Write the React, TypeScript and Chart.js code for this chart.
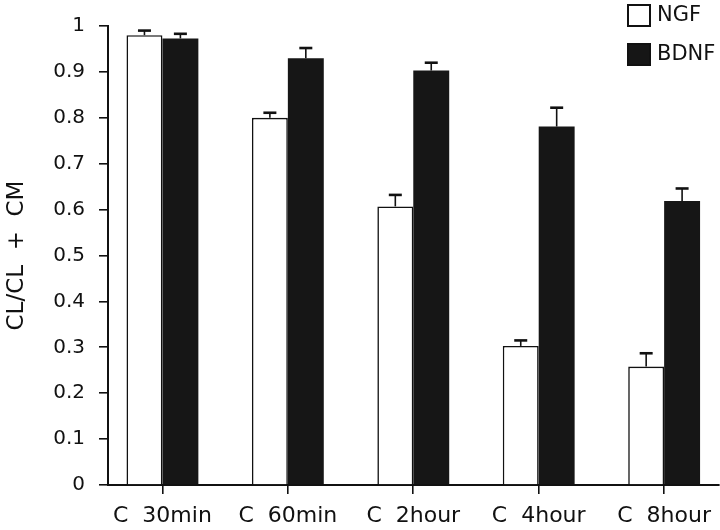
import React, { useEffect, useRef } from "react";
import { Chart, registerables } from "chart.js";

Chart.register(...registerables);

const categories = ["C  30min", "C  60min", "C  2hour", "C  4hour", "C  8hour"];
const seriesNames = ["NGF", "BDNF"];
const ngfValues = [0.98, 0.8, 0.607, 0.303, 0.258];
const ngfErrors = [0.01, 0.011, 0.025, 0.012, 0.029];
const bdnfValues = [0.973, 0.93, 0.903, 0.781, 0.619];
const bdnfErrors = [0.01, 0.022, 0.017, 0.041, 0.027];
const yTitle = "CL/CL  +  CM";

const FONT = "'DejaVu Sans', 'Liberation Sans', sans-serif";

const errorBarPlugin = {
  id: "errorBars",
  afterDatasetsDraw(chart: any) {
    const ctx = chart.ctx;
    const yScale = chart.scales.y;
    const errs = [ngfErrors, bdnfErrors];
    chart.data.datasets.forEach((ds: any, di: number) => {
      const meta = chart.getDatasetMeta(di);
      meta.data.forEach((el: any, i: number) => {
        const v = ds.data[i].y;
        const top = yScale.getPixelForValue(v + errs[di][i]);
        const x = el.x;
        ctx.save();
        ctx.strokeStyle = "#111";
        ctx.lineWidth = 1.6;
        ctx.beginPath();
        ctx.moveTo(x, el.y);
        ctx.lineTo(x, top);
        ctx.stroke();
        ctx.lineWidth = 2.6;
        ctx.beginPath();
        ctx.moveTo(x - 6.5, top);
        ctx.lineTo(x + 6.5, top);
        ctx.stroke();
        ctx.restore();
      });
    });
  },
};

const legendPlugin = {
  id: "customLegend",
  afterDraw(chart: any) {
    const ctx = chart.ctx;
    const rows = [
      { y: 5, fill: "#ffffff" },
      { y: 44, fill: "#161616" },
    ];
    ctx.save();
    chart.data.datasets.forEach((ds: any, i: number) => {
      const r = rows[i];
      ctx.fillStyle = r.fill;
      ctx.fillRect(628, r.y, 22, 21);
      ctx.strokeStyle = "#111";
      ctx.lineWidth = 2;
      ctx.strokeRect(628, r.y, 22, 21);
      ctx.fillStyle = "#111";
      ctx.font = `21px ${FONT}`;
      ctx.textBaseline = "middle";
      ctx.textAlign = "left";
      ctx.fillText(ds.label, 657, r.y + 11);
    });
    ctx.restore();
  },
};

export default function App() {
  const ref = useRef<HTMLCanvasElement | null>(null);

  useEffect(() => {
    if (!ref.current) return;
    const chart = new Chart(ref.current, {
      type: "bar",
      data: {
        datasets: [
          {
            label: seriesNames[0],
            data: ngfValues.map((v, i) => ({ x: i, y: v })),
            backgroundColor: "#ffffff",
            borderColor: "#111",
            borderWidth: { top: 1.6, left: 1.6, right: 1.6, bottom: 0 },
            borderSkipped: false,
          },
          {
            label: seriesNames[1],
            data: bdnfValues.map((v, i) => ({ x: i, y: v })),
            backgroundColor: "#161616",
            borderColor: "#161616",
            borderWidth: 0,
          },
        ],
      },
      options: {
        animation: false,
        responsive: false,
        maintainAspectRatio: false,
        layout: { padding: { top: 20, left: 0, right: 0, bottom: 0 } },
        datasets: {
          bar: { categoryPercentage: 0.573, barPercentage: 1.0 },
        },
        plugins: {
          legend: { display: false },
          tooltip: { enabled: false },
        },
        scales: {
          x: {
            type: "linear",
            offset: false,
            bounds: "data",
            min: (108 - 162.5) / 125.6,
            max: (720 - 162.5) / 125.6,
            afterBuildTicks: (scale: any) => {
              scale.ticks = categories.map((_, i) => ({ value: i }));
            },
            afterFit: (scale: any) => {
              scale.height = 45;
            },
            ticks: {
              autoSkip: false,
              maxRotation: 0,
              padding: 9,
              color: "#111",
              font: { family: FONT, size: 22 },
              callback: (v: any) => categories[Math.round(Number(v))] ?? "",
            },
            grid: {
              offset: false,
              drawOnChartArea: false,
              drawTicks: true,
              tickLength: 9,
              color: "#111",
              lineWidth: 1.6,
            },
            border: { display: true, color: "#111", width: 2 },
          },
          y: {
            min: 0,
            max: 1,
            afterFit: (scale: any) => {
              scale.width = 108;
            },
            ticks: {
              stepSize: 0.1,
              padding: 14,
              color: "#111",
              font: { family: FONT, size: 20 },
              callback: (v: any) => String(Number(Number(v).toFixed(1))),
            },
            grid: {
              drawOnChartArea: false,
              drawTicks: true,
              tickLength: 9,
              color: "#111",
              lineWidth: 1.6,
            },
            border: { display: true, color: "#111", width: 2 },
            title: {
              display: true,
              text: yTitle,
              color: "#111",
              font: { family: FONT, size: 23 },
              padding: { top: 3, bottom: 0 },
            },
          },
        },
      },
      plugins: [errorBarPlugin, legendPlugin],
    });
    return () => chart.destroy();
  }, []);

  return (
    <div
      style={{
        position: "fixed",
        left: 0,
        top: 0,
        width: 720,
        height: 530,
        background: "#fff",
      }}
    >
      <canvas ref={ref} width={720} height={530} style={{ display: "block" }} />
    </div>
  );
}
